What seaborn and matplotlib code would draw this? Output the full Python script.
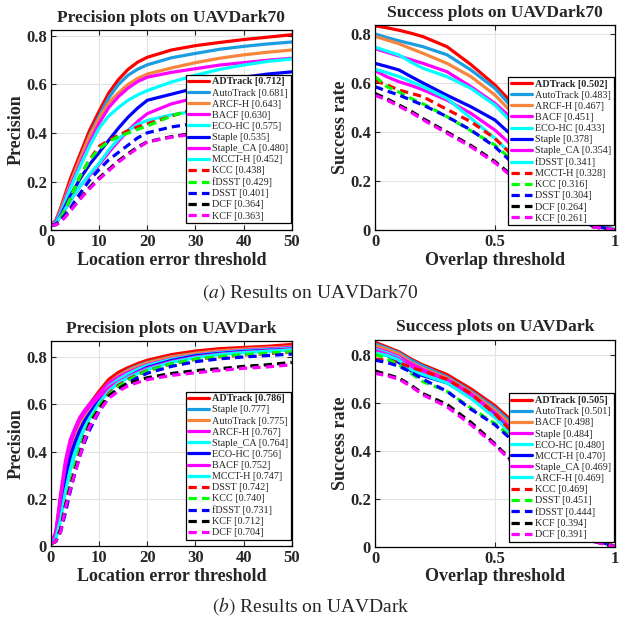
import numpy as np
import matplotlib
matplotlib.use("Agg")
import matplotlib.pyplot as plt
import seaborn as sns

# ---- data ----
prec_x = [0, 1, 2, 4, 6, 8, 10, 12, 14, 16, 18, 20, 25, 30, 35, 40, 45, 50]
succ_x = [0, 0.05, 0.1, 0.15, 0.2, 0.3, 0.4, 0.5, 0.6, 0.7, 0.8, 0.9, 1.0]
prec2_x = [0, 1, 2, 3, 4, 5, 6, 7, 8, 10, 12, 14, 16, 18, 20, 25, 30, 35, 40, 45, 50]

# (a) precision on UAVDark70
prec70_names = ["ADTrack", "AutoTrack", "ARCF-H", "BACF", "ECO-HC", "Staple", "Staple_CA",
                "MCCT-H", "KCC", "fDSST", "DSST", "DCF", "KCF"]
prec70_scores = [0.712, 0.681, 0.643, 0.630, 0.575, 0.535, 0.480, 0.452, 0.438, 0.429, 0.401, 0.364, 0.363]
prec70_y = [
    [0.02, 0.04, 0.09, 0.21, 0.31, 0.41, 0.49, 0.565, 0.62, 0.662, 0.692, 0.712, 0.742, 0.760, 0.773, 0.785, 0.795, 0.805],
    [0.02, 0.035, 0.08, 0.19, 0.29, 0.39, 0.47, 0.545, 0.60, 0.638, 0.663, 0.681, 0.710, 0.728, 0.745, 0.757, 0.767, 0.775],
    [0.02, 0.035, 0.08, 0.19, 0.29, 0.385, 0.46, 0.525, 0.565, 0.600, 0.625, 0.643, 0.668, 0.690, 0.708, 0.722, 0.733, 0.742],
    [0.02, 0.035, 0.075, 0.18, 0.27, 0.36, 0.44, 0.505, 0.55, 0.585, 0.612, 0.630, 0.650, 0.665, 0.680, 0.690, 0.700, 0.708],
    [0.02, 0.03, 0.07, 0.17, 0.26, 0.345, 0.42, 0.47, 0.505, 0.535, 0.557, 0.575, 0.610, 0.638, 0.662, 0.680, 0.695, 0.705],
    [0.02, 0.03, 0.06, 0.14, 0.21, 0.27, 0.32, 0.37, 0.42, 0.465, 0.503, 0.535, 0.560, 0.585, 0.608, 0.630, 0.643, 0.652],
    [0.02, 0.03, 0.055, 0.12, 0.18, 0.225, 0.27, 0.32, 0.366, 0.41, 0.448, 0.480, 0.520, 0.545, 0.565, 0.580, 0.595, 0.605],
    [0.02, 0.03, 0.055, 0.12, 0.18, 0.23, 0.275, 0.33, 0.375, 0.41, 0.435, 0.452, 0.475, 0.490, 0.505, 0.520, 0.535, 0.545],
    [0.02, 0.025, 0.045, 0.13, 0.22, 0.29, 0.345, 0.37, 0.39, 0.41, 0.425, 0.438, 0.470, 0.500, 0.520, 0.540, 0.555, 0.570],
    [0.02, 0.025, 0.045, 0.13, 0.22, 0.29, 0.335, 0.365, 0.385, 0.40, 0.415, 0.429, 0.470, 0.500, 0.525, 0.550, 0.570, 0.590],
    [0.02, 0.025, 0.04, 0.09, 0.15, 0.205, 0.25, 0.29, 0.32, 0.35, 0.38, 0.401, 0.425, 0.440, 0.460, 0.480, 0.510, 0.535],
    [0.02, 0.022, 0.035, 0.08, 0.13, 0.175, 0.215, 0.25, 0.285, 0.315, 0.342, 0.364, 0.385, 0.400, 0.420, 0.440, 0.470, 0.490],
    [0.02, 0.022, 0.033, 0.078, 0.127, 0.17, 0.21, 0.245, 0.28, 0.31, 0.338, 0.363, 0.383, 0.397, 0.415, 0.435, 0.460, 0.485],
]

# (a) success on UAVDark70
succ70_names = ["ADTrack", "AutoTrack", "ARCF-H", "BACF", "ECO-HC", "Staple", "Staple_CA",
                "fDSST", "MCCT-H", "KCC", "DSST", "DCF", "KCF"]
succ70_scores = [0.502, 0.483, 0.467, 0.451, 0.433, 0.378, 0.354, 0.341, 0.328, 0.316, 0.304, 0.264, 0.261]
succ70_y = [
    [0.833, 0.825, 0.815, 0.803, 0.789, 0.748, 0.675, 0.592, 0.49, 0.36, 0.21, 0.05, 0.0],
    [0.800, 0.785, 0.772, 0.760, 0.748, 0.715, 0.653, 0.578, 0.47, 0.35, 0.20, 0.05, 0.0],
    [0.790, 0.775, 0.760, 0.740, 0.721, 0.680, 0.626, 0.551, 0.45, 0.33, 0.19, 0.045, 0.0],
    [0.740, 0.725, 0.710, 0.695, 0.680, 0.646, 0.585, 0.517, 0.43, 0.32, 0.18, 0.04, 0.0],
    [0.746, 0.730, 0.714, 0.685, 0.660, 0.626, 0.578, 0.510, 0.41, 0.30, 0.17, 0.04, 0.0],
    [0.680, 0.667, 0.653, 0.626, 0.600, 0.550, 0.503, 0.449, 0.36, 0.25, 0.14, 0.03, 0.0],
    [0.650, 0.625, 0.605, 0.590, 0.572, 0.530, 0.476, 0.408, 0.32, 0.22, 0.12, 0.03, 0.0],
    [0.656, 0.642, 0.626, 0.606, 0.585, 0.537, 0.456, 0.374, 0.28, 0.20, 0.11, 0.025, 0.0],
    [0.610, 0.592, 0.571, 0.558, 0.544, 0.492, 0.442, 0.374, 0.28, 0.19, 0.10, 0.025, 0.0],
    [0.626, 0.585, 0.563, 0.537, 0.515, 0.463, 0.405, 0.347, 0.26, 0.18, 0.095, 0.02, 0.0],
    [0.585, 0.567, 0.551, 0.530, 0.510, 0.463, 0.408, 0.340, 0.25, 0.17, 0.09, 0.02, 0.0],
    [0.557, 0.535, 0.510, 0.485, 0.455, 0.400, 0.345, 0.280, 0.20, 0.13, 0.07, 0.015, 0.0],
    [0.550, 0.530, 0.505, 0.480, 0.450, 0.395, 0.340, 0.275, 0.195, 0.13, 0.07, 0.015, 0.0],
]

# (b) precision on UAVDark
prec_names = ["ADTrack", "Staple", "AutoTrack", "ARCF-H", "Staple_CA", "ECO-HC", "BACF",
              "MCCT-H", "DSST", "KCC", "fDSST", "KCF", "DCF"]
prec_scores = [0.786, 0.777, 0.775, 0.767, 0.764, 0.756, 0.752, 0.747, 0.742, 0.740, 0.731, 0.712, 0.704]
prec_y = [
    [0.01, 0.05, 0.20, 0.34, 0.42, 0.48, 0.535, 0.57, 0.60, 0.655, 0.705, 0.735, 0.755, 0.772, 0.786, 0.810, 0.825, 0.835, 0.840, 0.845, 0.853],
    [0.01, 0.03, 0.14, 0.28, 0.37, 0.43, 0.49, 0.53, 0.565, 0.63, 0.685, 0.72, 0.745, 0.763, 0.777, 0.800, 0.815, 0.825, 0.832, 0.837, 0.842],
    [0.01, 0.05, 0.18, 0.32, 0.41, 0.47, 0.52, 0.555, 0.585, 0.64, 0.69, 0.72, 0.742, 0.760, 0.775, 0.800, 0.815, 0.826, 0.833, 0.838, 0.843],
    [0.01, 0.06, 0.22, 0.36, 0.45, 0.50, 0.545, 0.575, 0.60, 0.645, 0.69, 0.715, 0.735, 0.752, 0.767, 0.792, 0.808, 0.820, 0.828, 0.834, 0.840],
    [0.01, 0.03, 0.12, 0.25, 0.34, 0.40, 0.46, 0.51, 0.55, 0.62, 0.675, 0.705, 0.728, 0.748, 0.764, 0.790, 0.807, 0.818, 0.826, 0.831, 0.836],
    [0.01, 0.04, 0.15, 0.29, 0.38, 0.44, 0.49, 0.53, 0.56, 0.615, 0.66, 0.69, 0.715, 0.737, 0.756, 0.785, 0.805, 0.815, 0.823, 0.828, 0.833],
    [0.01, 0.05, 0.20, 0.34, 0.43, 0.49, 0.535, 0.565, 0.59, 0.63, 0.67, 0.695, 0.715, 0.735, 0.752, 0.780, 0.800, 0.812, 0.820, 0.826, 0.832],
    [0.01, 0.03, 0.11, 0.23, 0.32, 0.39, 0.45, 0.50, 0.54, 0.605, 0.655, 0.69, 0.712, 0.730, 0.747, 0.777, 0.797, 0.810, 0.818, 0.824, 0.830],
    [0.01, 0.02, 0.07, 0.17, 0.26, 0.34, 0.41, 0.47, 0.52, 0.59, 0.645, 0.68, 0.705, 0.725, 0.742, 0.770, 0.790, 0.800, 0.808, 0.814, 0.820],
    [0.01, 0.02, 0.07, 0.17, 0.26, 0.34, 0.41, 0.47, 0.52, 0.59, 0.64, 0.675, 0.70, 0.722, 0.740, 0.770, 0.790, 0.802, 0.810, 0.816, 0.822],
    [0.01, 0.02, 0.06, 0.14, 0.23, 0.31, 0.38, 0.44, 0.49, 0.57, 0.63, 0.665, 0.69, 0.713, 0.731, 0.760, 0.780, 0.792, 0.800, 0.806, 0.812],
    [0.01, 0.02, 0.07, 0.17, 0.25, 0.32, 0.39, 0.46, 0.515, 0.58, 0.635, 0.665, 0.688, 0.700, 0.712, 0.730, 0.742, 0.750, 0.760, 0.767, 0.777],
    [0.01, 0.02, 0.06, 0.16, 0.24, 0.31, 0.38, 0.45, 0.505, 0.57, 0.625, 0.655, 0.678, 0.692, 0.704, 0.722, 0.733, 0.743, 0.752, 0.758, 0.767],
]

# (b) success on UAVDark
succ_names = ["ADTrack", "AutoTrack", "BACF", "Staple", "ECO-HC", "MCCT-H", "Staple_CA",
              "ARCF-H", "KCC", "DSST", "fDSST", "KCF", "DCF"]
succ_scores = [0.505, 0.501, 0.498, 0.484, 0.480, 0.470, 0.469, 0.469, 0.469, 0.451, 0.444, 0.394, 0.391]
succ_y = [
    [0.855, 0.835, 0.815, 0.785, 0.760, 0.720, 0.660, 0.590, 0.50, 0.38, 0.23, 0.05, 0.0],
    [0.848, 0.830, 0.810, 0.780, 0.755, 0.710, 0.650, 0.580, 0.49, 0.37, 0.22, 0.05, 0.0],
    [0.840, 0.825, 0.805, 0.770, 0.745, 0.705, 0.645, 0.570, 0.48, 0.36, 0.22, 0.05, 0.0],
    [0.830, 0.815, 0.795, 0.765, 0.740, 0.700, 0.640, 0.560, 0.46, 0.34, 0.20, 0.045, 0.0],
    [0.825, 0.810, 0.790, 0.745, 0.725, 0.690, 0.630, 0.550, 0.45, 0.33, 0.19, 0.04, 0.0],
    [0.815, 0.800, 0.770, 0.735, 0.715, 0.685, 0.625, 0.550, 0.44, 0.32, 0.18, 0.04, 0.0],
    [0.820, 0.805, 0.785, 0.750, 0.730, 0.695, 0.635, 0.545, 0.44, 0.32, 0.18, 0.04, 0.0],
    [0.810, 0.800, 0.780, 0.740, 0.720, 0.685, 0.620, 0.540, 0.44, 0.32, 0.18, 0.04, 0.0],
    [0.785, 0.780, 0.770, 0.750, 0.735, 0.700, 0.640, 0.555, 0.45, 0.33, 0.19, 0.04, 0.0],
    [0.805, 0.785, 0.760, 0.725, 0.690, 0.650, 0.580, 0.515, 0.43, 0.31, 0.17, 0.035, 0.0],
    [0.780, 0.770, 0.755, 0.730, 0.700, 0.650, 0.575, 0.510, 0.42, 0.30, 0.17, 0.035, 0.0],
    [0.735, 0.720, 0.705, 0.675, 0.640, 0.595, 0.520, 0.430, 0.33, 0.23, 0.12, 0.025, 0.0],
    [0.725, 0.715, 0.700, 0.670, 0.635, 0.585, 0.510, 0.425, 0.325, 0.225, 0.12, 0.025, 0.0],
]

# ---- style ----
sns.set_style("ticks")
plt.rcParams["font.family"] = ["Liberation Serif", "DejaVu Serif"]
plt.rcParams["mathtext.fontset"] = "stix"

# colour / line style by rank, like the toolkit does
rank_colors = ["#ff0000", "#1b9de2", "#f7853c", "#ff00ff", "#00ffff", "#0000ff", "#ff00ff",
               "#00ffff", "#ff0000", "#00ff00", "#0000ff", "#000000", "#ff00ff"]
dash = (0, (2.6, 1.6))
rank_styles = ["-"] * 8 + [dash] * 5


def draw_panel(ax, xs, names, scores, curves, title, xlabel, ylabel, xmax, ymax, xticks, legend_y):
    handles = []
    for i in range(len(names)):
        sns.lineplot(x=xs, y=curves[i], ax=ax, color=rank_colors[i], linewidth=2.3,
                     linestyle=rank_styles[i], dash_capstyle="butt")
        line = ax.lines[-1]
        line.set_label(f"{names[i]} [{scores[i]:.3f}]")
        handles.append(line)

    ax.set_xlim(0, xmax)
    ax.set_ylim(0, ymax)
    ax.set_xticks(xticks)
    ax.set_yticks([0, 0.2, 0.4, 0.6, 0.8])
    ax.set_xticklabels([f"{t:g}" for t in xticks])
    ax.set_yticklabels(["0", "0.2", "0.4", "0.6", "0.8"])
    ax.grid(True, color="#e3e3e3", linewidth=0.8)
    ax.set_axisbelow(True)
    ax.tick_params(direction="in", top=True, right=True, length=3.5, width=0.8,
                   labelsize=12, pad=3)
    for lab in ax.get_xticklabels() + ax.get_yticklabels():
        lab.set_fontweight("bold")
    for sp in ax.spines.values():
        sp.set_visible(True)
        sp.set_color("black")
        sp.set_linewidth(0.9)
    ax.set_title(title, fontsize=12.6, fontweight="bold", pad=6)
    ax.set_xlabel(xlabel, fontsize=13, fontweight="bold", labelpad=1)
    ax.set_ylabel(ylabel, fontsize=13, fontweight="bold", labelpad=1)

    leg = ax.legend(handles=handles, loc="lower right", bbox_to_anchor=(0.997, legend_y),
                    borderaxespad=0, fontsize=7.3, frameon=True, fancybox=False,
                    framealpha=1, edgecolor="black", handlelength=2.1, handletextpad=0.3,
                    labelspacing=0.2, borderpad=0.25)
    leg.get_frame().set_linewidth(0.9)
    leg.get_texts()[0].set_fontweight("bold")


fig = plt.figure(figsize=(6.21, 6.22), dpi=100)
ax1 = fig.add_axes([0.082, 0.630, 0.388, 0.322])
ax2 = fig.add_axes([0.604, 0.630, 0.386, 0.330])
ax3 = fig.add_axes([0.082, 0.122, 0.388, 0.330])
ax4 = fig.add_axes([0.604, 0.121, 0.386, 0.333])

draw_panel(ax1, prec_x, prec70_names, prec70_scores, prec70_y, "Precision plots on UAVDark70",
           "Location error threshold", "Precision", 50, 0.825, [0, 10, 20, 30, 40, 50], 0.035)
draw_panel(ax2, succ_x, succ70_names, succ70_scores, succ70_y, "Success plots on UAVDark70",
           "Overlap threshold", "Success rate", 1, 0.837, [0, 0.5, 1], 0.024)
draw_panel(ax3, prec2_x, prec_names, prec_scores, prec_y, "Precision plots on UAVDark",
           "Location error threshold", "Precision", 50, 0.868, [0, 10, 20, 30, 40, 50], 0.03)
draw_panel(ax4, succ_x, succ_names, succ_scores, succ_y, "Success plots on UAVDark",
           "Overlap threshold", "Success rate", 1, 0.866, [0, 0.5, 1], 0.024)

fig.text(0.5, 0.529, r"$(a)$ Results on UAVDark70", ha="center", va="center", fontsize=14)
fig.text(0.5, 0.026, r"$(b)$ Results on UAVDark", ha="center", va="center", fontsize=14)

fig.savefig("out.png", dpi=100)
